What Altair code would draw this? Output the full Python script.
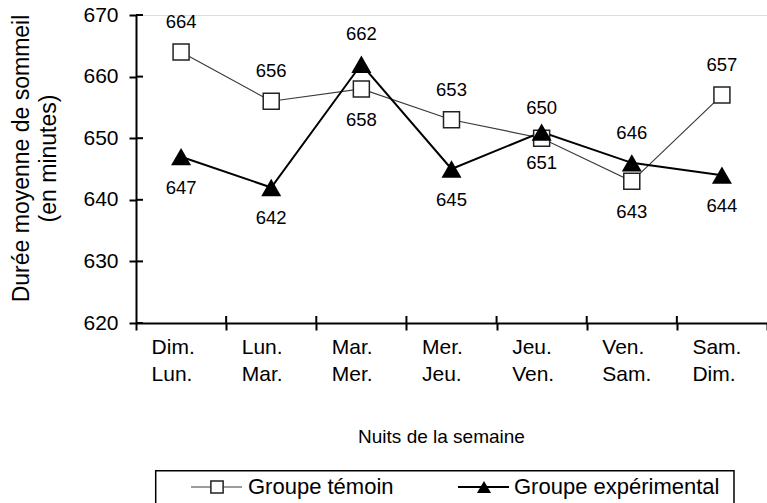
import altair as alt
import pandas as pd

# ---- data ----
nights = ["Dim.|Lun.", "Lun.|Mar.", "Mar.|Mer.", "Mer.|Jeu.", "Jeu.|Ven.", "Ven.|Sam.", "Sam.|Dim."]
temoin = [664, 656, 658, 653, 650, 643, 657]
experimental = [647, 642, 662, 645, 651, 646, 644]
y_ticks = [620, 630, 640, 650, 660, 670]
series_names = ["Groupe témoin", "Groupe expérimental"]
x_title = "Nuits de la semaine"
y_title = ["Durée moyenne de sommeil", "(en minutes)"]

FONT = "Liberation Sans"
W, H = 631, 308

rows = []
for i, n in enumerate(nights):
    t, e = temoin[i], experimental[i]
    t_above = not (e - t > 1)
    rows.append(dict(night=n, group=series_names[0], value=t, side="above" if t_above else "below"))
    rows.append(dict(night=n, group=series_names[1], value=e, side="below" if t_above else "above"))
df = pd.DataFrame(rows)

x_scale = alt.Scale(type="band", paddingInner=0, paddingOuter=0)
y_scale = alt.Scale(domain=[620, 670], nice=False, zero=False)

x_axis = alt.Axis(
    title=x_title, titleFont=FONT, titleFontSize=19, titleFontWeight="normal", titleColor="black",
    titleX=305, titleY=113, titleAlign="center", titleBaseline="middle",
    domainColor="black", domainWidth=2, tickColor="black", tickWidth=2, tickSize=7,
    tickBand="extent", labelAlign="left", labelOffset=-30, labelPadding=6, labelBaseline="top",
    labelFont=FONT, labelFontSize=21, labelColor="black", labelAngle=0,
    labelExpr="split(datum.label, '|')", labelLineHeight=27, labelOverlap=False, grid=False,
)
y_axis = alt.Axis(
    title=y_title, titleFont=FONT, titleFontSize=23, titleFontWeight="normal", titleColor="black",
    titleAngle=270, titleX=-115, titleY=143, titleAlign="center", titleBaseline="middle",
    titleLineHeight=27,
    values=y_ticks, domainColor="black", domainWidth=2, tickColor="black", tickWidth=2, tickSize=7,
    labelFont=FONT, labelFontSize=21, labelColor="black", labelPadding=11, grid=False,
)

def X(**kw):
    return alt.X("night:N", sort=nights, scale=x_scale, axis=x_axis, **kw)

def Y(field="value"):
    return alt.Y(f"{field}:Q", scale=y_scale, axis=y_axis)

base = alt.Chart(df)
is_t = alt.datum.group == series_names[0]
is_e = alt.datum.group == series_names[1]

line_t = base.transform_filter(is_t).mark_line(color="#3a3a3a", strokeWidth=1.2).encode(x=X(), y=Y())
line_e = base.transform_filter(is_e).mark_line(color="black", strokeWidth=2).encode(x=X(), y=Y())
pts_t = base.transform_filter(is_t).mark_point(
    shape="square", filled=False, fill="white", fillOpacity=1, stroke="#222222",
    strokeWidth=1.5, size=256, opacity=1).encode(x=X(), y=Y())
pts_e = base.transform_filter(is_e).mark_point(
    shape="triangle-up", filled=True, color="black", size=400, opacity=1).encode(x=X(), y=Y())

lab_above = base.transform_filter(alt.datum.side == "above").mark_text(
    dy=-30, fontSize=18.5, font=FONT, color="black", baseline="middle").encode(
    x=X(), y=Y(), text="value:Q")
lab_below = base.transform_filter(alt.datum.side == "below").mark_text(
    dy=31, fontSize=18.5, font=FONT, color="black", baseline="middle").encode(
    x=X(), y=Y(), text="value:Q")

# inner halves of the crossing tick marks
xt = alt.Chart(pd.DataFrame({"night": nights[:-1]})).mark_rule(color="black", strokeWidth=2).encode(
    x=X(bandPosition=1), y=alt.value(H - 7), y2=alt.value(H))
yt = alt.Chart(pd.DataFrame({"v": y_ticks})).mark_rule(color="black", strokeWidth=2).encode(
    y=Y("v"), x=alt.value(0), x2=alt.value(7))

# custom legend
one = alt.Chart(pd.DataFrame({"k": [0]}))
LY = 472
box = one.mark_rect(fillOpacity=0, stroke="black", strokeWidth=1.5).encode(
    x=alt.value(19.7), x2=alt.value(598), y=alt.value(455.7), y2=alt.value(500))
leg_line_t = one.mark_rule(color="#3a3a3a", strokeWidth=1.2).encode(
    x=alt.value(55), x2=alt.value(106), y=alt.value(LY))
leg_sq = one.mark_point(shape="square", filled=False, fill="white", fillOpacity=1, stroke="#222222",
                        strokeWidth=1.5, size=150, opacity=1).encode(x=alt.value(81), y=alt.value(LY))
leg_txt_t = one.mark_text(align="left", baseline="middle", fontSize=22, font=FONT, color="black").encode(
    x=alt.value(112), y=alt.value(LY), text=alt.value(series_names[0]))
leg_line_e = one.mark_rule(color="black", strokeWidth=2).encode(
    x=alt.value(322), x2=alt.value(373), y=alt.value(LY))
leg_tri = one.mark_point(shape="triangle-up", filled=True, color="black", size=200, opacity=1).encode(
    x=alt.value(348), y=alt.value(LY))
leg_txt_e = one.mark_text(align="left", baseline="middle", fontSize=22, font=FONT, color="black").encode(
    x=alt.value(378), y=alt.value(LY), text=alt.value(series_names[1]))

chart = alt.layer(
    line_t, line_e, pts_t, pts_e, lab_above, lab_below, xt, yt,
    box, leg_line_t, leg_sq, leg_txt_t, leg_line_e, leg_tri, leg_txt_e,
).properties(
    width=W, height=H,
    autosize=alt.AutoSizeParams(type="none"),
    padding={"left": 136, "top": 15, "right": 0, "bottom": 180},
).configure_view(stroke="transparent").configure(font=FONT, background="white")

chart.save("out.html", embed_options={"renderer": "svg", "actions": False})
